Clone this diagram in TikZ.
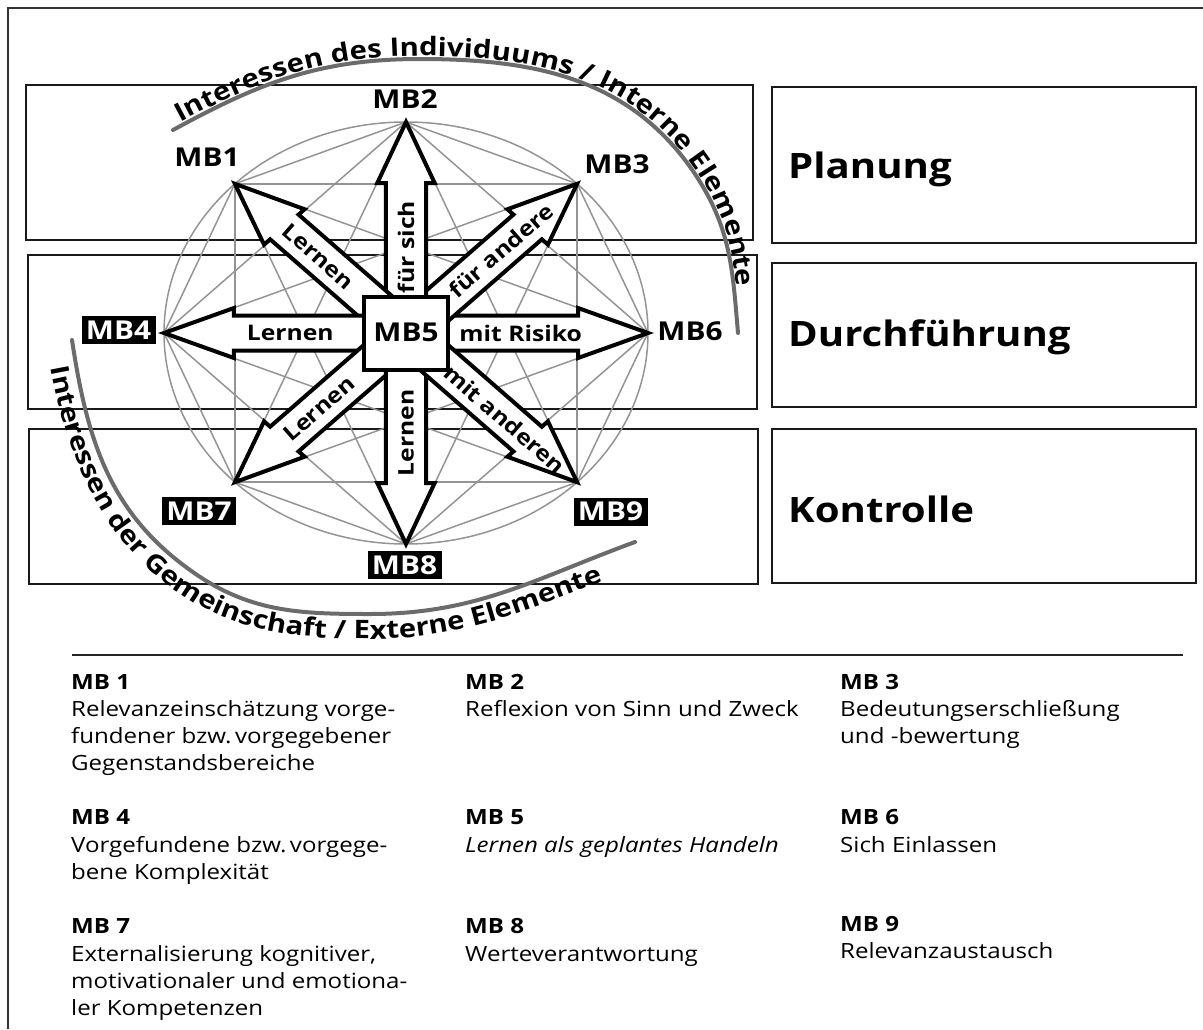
\documentclass[tikz,border=0pt]{standalone}
\usepackage{fontspec}
\setmainfont{Open Sans}[FakeStretch=1.147]
\usetikzlibrary{decorations.text}

\newcommand\mbfont{\bfseries\fontsize{26}{30}\selectfont}
\newcommand\arrowfont{\bfseries\fontsize{21.5}{25}\selectfont}
\newcommand\phasefont{\bfseries\fontsize{35}{40}\selectfont}
\newcommand\arcfont{\bfseries\fontsize{25.5}{30}\selectfont}
\newcommand\legheadfont{\bfseries\fontsize{21}{24}\selectfont}
\newcommand\legbodyfont{\fontsize{21}{24}\selectfont}

\tikzset{
  frame/.style={draw=black!80, line width=1.5pt},
  rowbox/.style={draw=black!90, line width=2pt, inner sep=0pt, anchor=north west},
  web/.style={draw=black!42, line width=1.5pt},
  bow/.style={draw=black!58, line width=4pt, line cap=round},
  bigarrow/.style={draw=black, fill=white, line width=4pt, line join=miter},
  centrebox/.style={draw=black, fill=white, line width=4pt, minimum width=84pt,
    minimum height=73pt, inner sep=0pt, font=\mbfont},
  plainlab/.style={font=\mbfont, inner sep=0pt},
  darklab/.style={fill=black, text=white, font=\mbfont, minimum width=74pt,
    minimum height=28pt, inner sep=0pt},
  arrowtext/.style={font=\arrowfont, inner sep=0pt},
  phase/.style={font=\phasefont, anchor=base west, inner sep=0pt},
  leghead/.style={font=\legheadfont, anchor=base west, inner sep=0pt},
  legtext/.style={font=\legbodyfont, anchor=base west, inner sep=0pt},
  rule/.style={draw=black!85, line width=2pt},
}

\begin{document}
\begin{tikzpicture}[x=1pt, y=-1pt]
\useasboundingbox (0,0) rectangle (1203,1029);

% outer frame
\draw[frame] (8,1029) -- (8,8) -- (1203,8);

% the three rows on the left and the phase boxes on the right
\node[rowbox, minimum width=727pt, minimum height=155pt] (row1) at (25,84) {};
\node[rowbox, minimum width=729pt, minimum height=154pt] (row2) at (27,254) {};
\node[rowbox, minimum width=729pt, minimum height=155pt] (row3) at (28,428) {};
\node[rowbox, minimum width=424pt, minimum height=156pt] (phase1) at (771,86) {};
\node[rowbox, minimum width=424pt, minimum height=144pt] (phase2) at (771,262) {};
\node[rowbox, minimum width=424pt, minimum height=154pt] (phase3) at (771,428) {};

% the eight outer points of the star
\coordinate (c0) at (648,333);
\coordinate (c1) at (577.1,183.8);
\coordinate (c2) at (406,122);
\coordinate (c3) at (234.9,183.8);
\coordinate (c4) at (164,333);
\coordinate (c5) at (234.9,482.2);
\coordinate (c6) at (406,544);
\coordinate (c7) at (577.1,482.2);

% grey web: every point joined to every other, plus the ellipse
\foreach \i in {0,...,6} {
  \pgfmathtruncatemacro\nxt{\i+1}
  \foreach \j in {\nxt,...,7} {\draw[web] (c\i) -- (c\j);}
}
\draw[web] (406,333) ellipse [x radius=242, y radius=211];

% the two grey bows
\def\topbow{(173,130) .. controls (261,82) and (320,59) .. (420,59)
  .. controls (537,59) and (633,79) .. (697,177)
  .. controls (731,230) and (732.6,270) .. (738,333)}
\def\lowbow{(72,340) .. controls (87,439) and (109,512) .. (190,570)
  .. controls (248,612) and (298,614) .. (370,614)
  .. controls (477,614) and (534,579) .. (635,542)}
\draw[bow] \topbow;
\draw[bow] \lowbow;

% their captions: the upper one just outside its bow, the lower one on a
% baseline running parallel to its bow on the outer side
\path[decorate, decoration={text along path, raise=3pt,
    text align={left indent=10pt},
    text={|\arcfont|Interessen des Individuums / Interne Elemente}}]
  \topbow -- (739,430);
\path[decorate, decoration={text along path,
    text align={left indent=24pt},
    text={|\arcfont|Interessen der Gemeinschaft / Externe Elemente}}]
  (47,344) .. controls (62,443) and (94,532) .. (175,590)
  .. controls (233,632) and (298,639) .. (370,639)
  .. controls (477,639) and (543,602) .. (644,566) -- (730,535);

% the eight block arrows leaving the centre
\begin{scope}[shift={(406,333)}, xscale=1.147]
  \foreach \a in {0,45,...,315} {
    \draw[bigarrow, rotate=\a] (0,-17.5) -- (150,-17.5) -- (150,-25) -- (211,0)
      -- (150,25) -- (150,17.5) -- (0,17.5) -- cycle;
  }
\end{scope}

% centre box
\node[centrebox] (mb5) at (406,333.5) {\raisebox{2pt}{MB5}};

% arrow captions
\node[arrowtext, rotate=-41.1] (t1) at (318.4,256.6) {Lernen};
\node[arrowtext, rotate=90] (t2) at (406,247) {für sich};
\node[arrowtext, rotate=41.1] (t3) at (500.9,250.3) {für andere};
\node[arrowtext] (t4) at (290.2,333) {Lernen};
\node[arrowtext] (t6) at (520.7,333) {mit Risiko};
\node[arrowtext, rotate=41.1] (t7) at (319.2,408.7) {Lernen};
\node[arrowtext, rotate=90] (t8) at (406,433) {Lernen};
\node[arrowtext, rotate=-41.1] (t9) at (504.5,419) {mit anderen};

% point labels
\node[plainlab] (l1) at (207,157) {MB1};
\node[plainlab] (l2) at (405,99) {MB2};
\node[plainlab] (l3) at (617,164) {MB3};
\node[plainlab] (l6) at (690,331) {MB6};
\node[darklab] (l4) at (118.5,330) {MB4};
\node[darklab] (l7) at (199,511) {MB7};
\node[darklab] (l8) at (404.5,565) {MB8};
\node[darklab] (l9) at (610.5,511.5) {MB9};

% phase captions
\node[phase] (p1) at (788,178) {Planung};
\node[phase] (p2) at (788,346) {Durchführung};
\node[phase] (p3) at (788,522) {Kontrolle};

% legend
\draw[rule] (72,655) -- (1183,655);

\node[leghead] (h1) at (71,689) {MB 1};
\node[legtext] (d1a) at (71,716) {Relevanzeinschätzung vorge-};
\node[legtext] (d1b) at (71,743) {fundener bzw.\,vorgegebener};
\node[legtext] (d1c) at (71,770) {Gegenstandsbereiche};
\node[leghead] (h4) at (71,824) {MB 4};
\node[legtext] (d4a) at (71,852) {Vorgefundene bzw.\,vorgege-};
\node[legtext] (d4b) at (71,879) {bene Komplexität};
\node[leghead] (h7) at (71,933) {MB 7};
\node[legtext] (d7a) at (71,961) {Externalisierung kognitiver,};
\node[legtext] (d7b) at (71,988) {motivationaler und emotiona-};
\node[legtext] (d7c) at (71,1015) {ler Kompetenzen};

\node[leghead] (h2) at (465,689) {MB 2};
\node[legtext] (d2a) at (465,716) {Reflexion von Sinn und Zweck};
\node[leghead] (h5) at (465,824) {MB 5};
\node[legtext] (d5a) at (465,852) {\itshape Lernen als geplantes Handeln};
\node[leghead] (h8) at (465,933) {MB 8};
\node[legtext] (d8a) at (465,961) {Werteverantwortung};

\node[leghead] (h3) at (840,689) {MB 3};
\node[legtext] (d3a) at (840,716) {Bedeutungserschließung};
\node[legtext] (d3b) at (840,743) {und -bewertung};
\node[leghead] (h6) at (840,824) {MB 6};
\node[legtext] (d6a) at (840,852) {Sich Einlassen};
\node[leghead] (h9) at (840,931) {MB 9};
\node[legtext] (d9a) at (840,958) {Relevanzaustausch};
\end{tikzpicture}
\end{document}
